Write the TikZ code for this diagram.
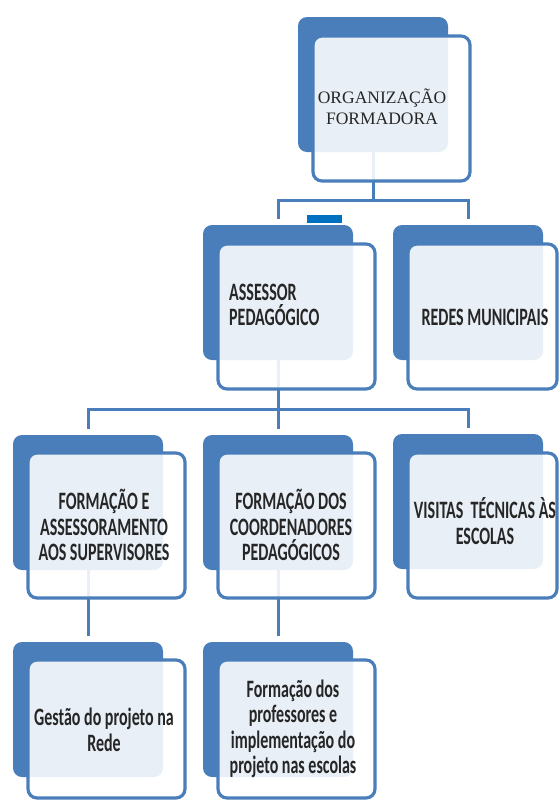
\documentclass[tikz,border=0pt]{standalone}
\usepackage{fontspec}
\setmainfont{Liberation Serif}
\newfontfamily\narrowsans[FakeStretch=0.64]{Carlito}
\usetikzlibrary{backgrounds}
\definecolor{boxblue}{HTML}{4A7EBB}
\definecolor{markblue}{HTML}{0070C0}
\begin{document}
\begin{tikzpicture}
    [
    x=1pt,y=-1pt,
    back/.style={rectangle,rounded corners=9pt,fill=boxblue,anchor=north west,outer sep=0pt,inner sep=0pt,minimum width=150pt,minimum height=135pt},
    front/.style={rectangle,rounded corners=9pt,draw=boxblue,line width=3.2pt,fill=white,fill opacity=0.88,anchor=north west,outer sep=0pt,inner sep=0pt,minimum width=157pt,minimum height=145pt},
    title/.style={align=center,inner sep=0pt,text=black!85,font=\fontsize{17.5}{21}\selectfont},
    caption/.style={align=center,inner sep=0pt,text=black!85,font=\narrowsans\bfseries\fontsize{25}{25.5}\selectfont},
    link/.style={draw=boxblue,line width=3pt,shorten >=6pt}
    ]
    \useasboundingbox (0,0) rectangle (559,801);
    \node (orgb) at (298,17) [back] {};
    \node (org) at (313,36) [front] {};
    \node (orgt) at (382,107) [title] {ORGANIZAÇÃO\\FORMADORA};
    \node (assb) at (203,225) [back] {};
    \node (ass) at (218,244) [front] {};
    \node (asst) at (229,305) [caption,align=left,anchor=west] {ASSESSOR\\PEDAGÓGICO};
    \node (redb) at (393,225) [back] {};
    \node (red) at (408,244) [front,minimum width=149pt] {};
    \node (redt) at (485,317) [caption] {REDES MUNICIPAIS};
    \node (mark) at (324.5,219) [fill=markblue,inner sep=0pt,minimum width=35pt,minimum height=8pt] {};
    \node (fab) at (13,435) [back] {};
    \node (fa) at (28,453) [front] {};
    \node (fat) at (104,525) [caption] {FORMAÇÃO E\\ASSESSORAMENTO\\AOS SUPERVISORES};
    \node (fcb) at (203,435) [back] {};
    \node (fc) at (218,453) [front] {};
    \node (fct) at (291,525) [caption] {FORMAÇÃO DOS\\COORDENADORES\\PEDAGÓGICOS};
    \node (vtb) at (393,434) [back] {};
    \node (vt) at (408,453) [front,minimum width=149pt] {};
    \node (vtt) at (485,521) [caption] {VISITAS\ \ TÉCNICAS ÀS\\ESCOLAS};
    \node (gpb) at (13,642) [back] {};
    \node (gp) at (28,660) [front,minimum height=138pt] {};
    \node (gpt) at (104,730) [caption] {Gestão do projeto na\\Rede};
    \node (fpb) at (203,642) [back] {};
    \node (fp) at (218,660) [front,minimum height=138pt] {};
    \node (fpt) at (293,729) [caption] {Formação dos\\professores e\\implementação do\\projeto nas escolas};
    \coordinate (bar1) at (0,200);
    \coordinate (bar2) at (0,409);
    \begin{pgfonlayer}{background}
    \draw [link] (orgb.south) |- (bar1 -| assb.north) -- (assb.north);
    \draw [link] (orgb.south) |- (bar1 -| redb.north) -- (redb.north);
    \draw [link] (assb.south) |- (bar2 -| fab.north) -- (fab.north);
    \draw [link] (assb.south) -- (fcb.north);
    \draw [link] (assb.south) |- (bar2 -| vtb.north) -- (vtb.north);
    \draw [link] (fab.south) -- (gpb.north);
    \draw [link] (fcb.south) -- (fpb.north);
    \end{pgfonlayer}
  \end{tikzpicture}
\end{document}
